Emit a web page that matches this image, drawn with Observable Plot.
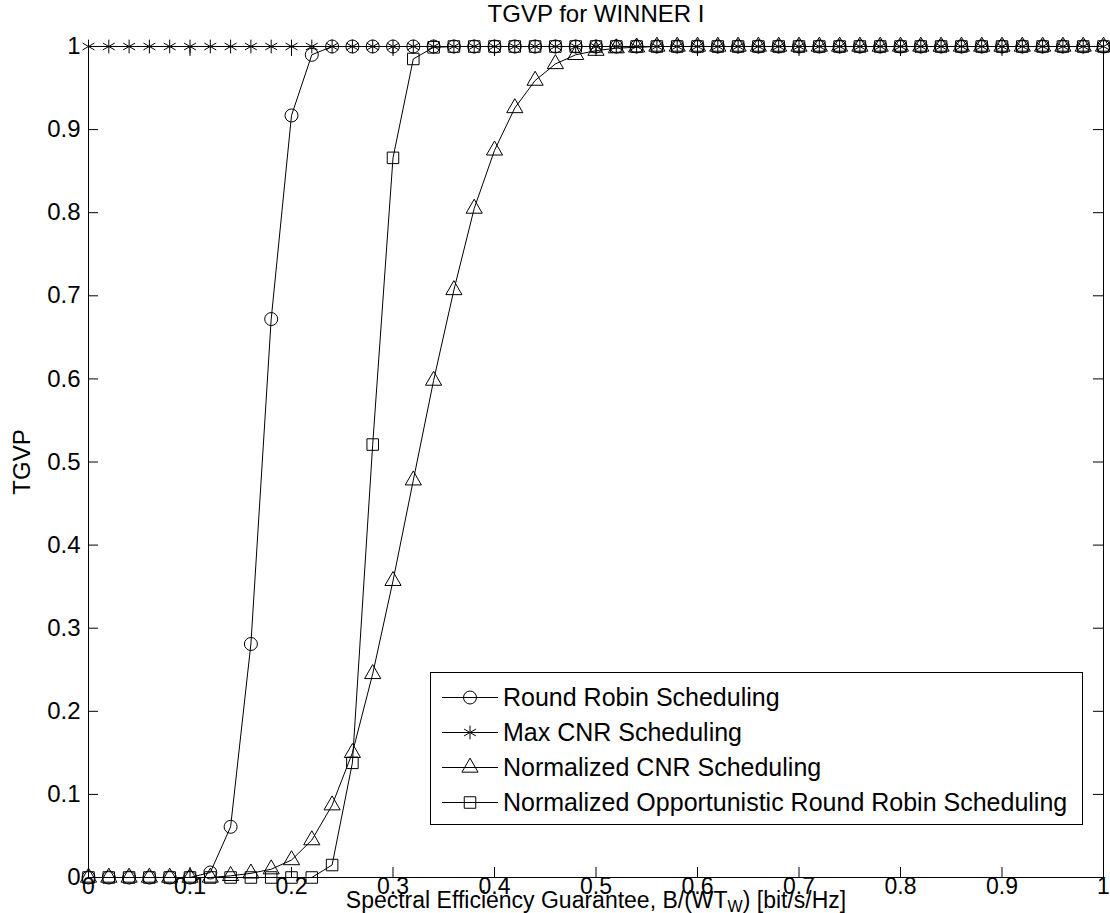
<!DOCTYPE html>
<html><head><meta charset="utf-8">
<script src="https://cdn.jsdelivr.net/npm/d3@7"></script>
<script src="https://cdn.jsdelivr.net/npm/@observablehq/plot@0.6"></script>
<style>
body{margin:0;background:#fff;}
#wrap{position:relative;width:1110px;height:913px;font-family:"Liberation Sans",Arial,Helvetica,sans-serif;}
#legend{position:absolute;left:430px;top:672px;width:653px;height:153px;border:1px solid #000;background:#fff;box-sizing:border-box;padding-top:7px;}
.lrow{height:35px;display:flex;align-items:center;font-size:25px;color:#000;white-space:nowrap;}
.lrow svg{width:72px;height:35px;flex:none;}
</style></head>
<body><div id="wrap"><div id="legend"></div></div>
<script>
const seriesNames = ["Round Robin Scheduling","Max CNR Scheduling","Normalized CNR Scheduling","Normalized Opportunistic Round Robin Scheduling"];
const seriesSymbols = ["circle","asterisk","triangle","square"];
const xs = [0,0.02,0.04,0.06,0.08,0.10,0.12,0.14,0.16,0.18,0.20,0.22,0.24,0.26,0.28,0.30,0.32,0.34,0.36,0.38,0.40,0.42,0.44,0.46,0.48,0.50,0.52,0.54,0.56,0.58,0.60,0.62,0.64,0.66,0.68,0.70,0.72,0.74,0.76,0.78,0.80,0.82,0.84,0.86,0.88,0.90,0.92,0.94,0.96,0.98,1.00];
const roundRobin = [0,0,0,0,0,0,0.006,0.061,0.281,0.672,0.917,0.990,1,1,1,1,1,1,1,1,1,1,1,1,1,1,1,1,1,1,1,1,1,1,1,1,1,1,1,1,1,1,1,1,1,1,1,1,1,1,1];
const maxCNR = [1,1,1,1,1,1,1,1,1,1,1,1,1,1,1,1,1,1,1,1,1,1,1,1,1,1,1,1,1,1,1,1,1,1,1,1,1,1,1,1,1,1,1,1,1,1,1,1,1,1,1];
const normCNR = [0,0,0,0,0,0,0,0.002,0.005,0.010,0.021,0.045,0.087,0.150,0.245,0.357,0.478,0.598,0.707,0.805,0.875,0.926,0.959,0.979,0.990,0.995,0.998,0.999,1,1,1,1,1,1,1,1,1,1,1,1,1,1,1,1,1,1,1,1,1,1,1];
const normORR = [0,0,0,0,0,0,0,0,0,0,0,0,0.015,0.138,0.521,0.866,0.985,0.999,1,1,1,1,1,1,1,1,1,1,1,1,1,1,1,1,1,1,1,1,1,1,1,1,1,1,1,1,1,1,1,1,1];
const xTicks = [0,0.1,0.2,0.3,0.4,0.5,0.6,0.7,0.8,0.9,1];
const xTickLabels = ["0","0.1","0.2","0.3","0.4","0.5","0.6","0.7","0.8","0.9","1"];
const yTicks = [0,0.1,0.2,0.3,0.4,0.5,0.6,0.7,0.8,0.9,1];
const yTickLabels = ["0","0.1","0.2","0.3","0.4","0.5","0.6","0.7","0.8","0.9","1"];
const titleText = "TGVP for WINNER I";
const yLabelText = "TGVP";
const xLabelParts = ["Spectral Efficiency Guarantee, B/(WT","W",") [bit/s/Hz]"];

const allSeries = [roundRobin, maxCNR, normCNR, normORR];
const markerR = [6.5, 6.5, 6, 6.5];
const FONT = '"Liberation Sans",Arial,Helvetica,sans-serif';
const FS = 24;
const FSX = 23;

const marks = [
  Plot.frame({stroke:"#000", strokeWidth:1}),
  Plot.ruleX(xTicks, {x:d=>d, y1:0, y2:0.012, stroke:"#000"}),
  Plot.ruleX(xTicks, {x:d=>d, y1:0.988, y2:1, stroke:"#000"}),
  Plot.ruleY(yTicks, {y:d=>d, x1:0, x2:0.0099, stroke:"#000"}),
  Plot.ruleY(yTicks, {y:d=>d, x1:0.9901, x2:1, stroke:"#000"}),
  Plot.axisX(xTicks, {tickSize:0, tickPadding:0, tickFormat:(d,i)=>xTickLabels[i], label:null, fontSize:FSX}),
  Plot.axisY(yTicks, {tickSize:0, tickPadding:8, tickFormat:(d,i)=>yTickLabels[i], label:null, fontSize:FS})
];
allSeries.forEach((s, k) => {
  const data = xs.map((x, i) => ({x, y: s[i]}));
  marks.push(Plot.line(data, {x:"x", y:"y", stroke:"#000", strokeWidth:1}));
  marks.push(Plot.dot(data, {x:"x", y:"y", symbol:seriesSymbols[k], r:markerR[k], stroke:"#000", fill:"none", strokeWidth:1}));
});
marks.push(Plot.text([titleText], {frameAnchor:"top", dy:-32, lineAnchor:"middle", textAnchor:"middle", fontSize:FS, fill:"#000"}));
marks.push(Plot.text([yLabelText], {frameAnchor:"left", dx:-66, rotate:-90, textAnchor:"middle", lineAnchor:"middle", fontSize:FS, fill:"#000"}));
marks.push(Plot.text([xLabelParts.join("")], {frameAnchor:"bottom", dy:23, lineAnchor:"middle", textAnchor:"middle", fontSize:FSX, fill:"#000", className:"xlab"}));

const chart = Plot.plot({
  width:1110, height:913,
  marginTop:46, marginBottom:36, marginLeft:88, marginRight:7,
  x:{domain:[0,1]}, y:{domain:[0,1]},
  style:{fontFamily:FONT, fontSize:FS + "px", color:"#000", background:"#fff", overflow:"visible"},
  marks
});
document.getElementById("wrap").prepend(chart);

// subscript in x label
const t = chart.querySelector(".xlab text");
if (t) {
  t.textContent = "";
  const sel = d3.select(t);
  sel.append("tspan").text(xLabelParts[0]);
  sel.append("tspan").attr("dy", 4).attr("font-size", 16).text(xLabelParts[1]);
  sel.append("tspan").attr("dy", -4).text(xLabelParts[2]);
}

// legend
const leg = d3.select("#legend");
seriesNames.forEach((name, k) => {
  const row = leg.append("div").attr("class", "lrow");
  const svg = row.append("svg");
  svg.append("line").attr("x1", 11).attr("x2", 67).attr("y1", 17.5).attr("y2", 17.5).attr("stroke", "#000");
  const r = markerR[k];
  const sym = {circle:d3.symbolCircle, asterisk:d3.symbolAsterisk, triangle:d3.symbolTriangle, square:d3.symbolSquare}[seriesSymbols[k]];
  svg.append("path").attr("transform", "translate(39,17.5)").attr("d", d3.symbol(sym, Math.PI * r * r)()).attr("fill", "none").attr("stroke", "#000");
  row.append("span").text(name);
});
</script></body></html>
